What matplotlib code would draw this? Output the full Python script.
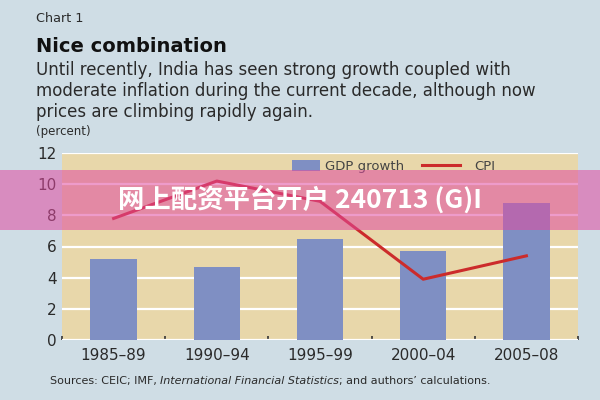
import numpy as np
import matplotlib.pyplot as plt
from matplotlib.patches import Rectangle

periods = ['1985–89', '1990–94', '1995–99', '2000–04', '2005–08']
gdp_growth = [5.2, 4.7, 6.5, 5.7, 8.8]
cpi = [7.8, 10.2, 8.9, 3.9, 5.4]
yticks = [0, 2, 4, 6, 8, 10, 12]

bg = '#cfdde5'
panel = '#e8d7aa'
bar_col = '#7f8fc3'
line_col = '#cc2b2b'
txt = '#2a2a2a'

fig = plt.figure(figsize=(6, 4), dpi=100, facecolor=bg)
ax = fig.add_axes([62/600, 60/400, 516/600, 187/400])
ax.set_facecolor(panel)

x = np.arange(len(periods))
bars = ax.bar(x, gdp_growth, width=0.45, color=bar_col, zorder=3)
line, = ax.plot(x, cpi, color=line_col, lw=2.2, zorder=4)

ax.set_xlim(-0.5, len(periods) - 0.5)
ax.set_ylim(0, 12)
ax.set_yticks(yticks)
ax.grid(axis='y', color='white', lw=1.6, zorder=1)
ax.set_axisbelow(True)
for s in ax.spines.values():
    s.set_visible(False)

ax.set_xticks(x)
ax.set_xticklabels(periods)
ax.set_xticks(np.arange(-0.5, len(periods)), minor=True)
ax.tick_params(axis='x', which='major', length=0, pad=6, labelsize=11, labelcolor=txt)
ax.tick_params(axis='x', which='minor', length=3, width=1.2, direction='in', color='#333333')
ax.tick_params(axis='y', length=0, pad=4, labelsize=11, labelcolor=txt)
for lab in ax.get_xticklabels() + ax.get_yticklabels():
    lab.set_fontweight('medium')

# two separate legends so the patch and line handles can differ in length
leg1 = ax.legend([bars], ['GDP growth'], loc='center left', bbox_to_anchor=(218/516, 0.93),
                 frameon=False, fontsize=9.5, handlelength=2.1, handleheight=0.9,
                 handletextpad=0.4, labelcolor='#444444')
ax.add_artist(leg1)
ax.legend([line], ['CPI'], loc='center left', bbox_to_anchor=(348/516, 0.93),
          frameon=False, fontsize=9.5, handlelength=2.9, handletextpad=1.1,
          labelcolor='#444444')

fig.text(36/600, 1 - 19/400, 'Chart 1', fontsize=9.2, color=txt, va='center')
fig.text(36/600, 1 - 46/400, 'Nice combination', fontsize=14, fontweight='bold', color='#111111', va='center')
fig.text(36/600, 1 - 91/400,
         'Until recently, India has seen strong growth coupled with\n'
         'moderate inflation during the current decade, although now\n'
         'prices are climbing rapidly again.',
         fontsize=12, color=txt, va='center', linespacing=1.2)
fig.text(36/600, 1 - 131/400, '(percent)', fontsize=8.5, color=txt, va='center')

fig.canvas.draw()
r = fig.canvas.get_renderer()
src = [('Sources: CEIC; IMF, ', 'normal'), ('International Financial Statistics', 'italic'),
       ('; and authors\u2019 calculations.', 'normal')]
xpos = 50
for s, st in src:
    tt = fig.text(xpos/600, 1 - 381/400, s, fontsize=8, style=st, color=txt, va='center')
    xpos += tt.get_window_extent(renderer=r).width

# watermark band
fig.patches.append(Rectangle((0, 1 - 230/400), 1, 60/400, transform=fig.transFigure,
                             facecolor='#e04aa0', alpha=0.55, edgecolor='none', zorder=10))
fig.text(0.5, 1 - 201/400, '网上配资平台开户 240713 (G)I', fontsize=19, fontweight='bold',
         color='white', ha='center', va='center', zorder=11,
         family=['Noto Sans CJK SC', 'DejaVu Sans'])

fig.savefig('out.png', dpi=100, facecolor=bg)
